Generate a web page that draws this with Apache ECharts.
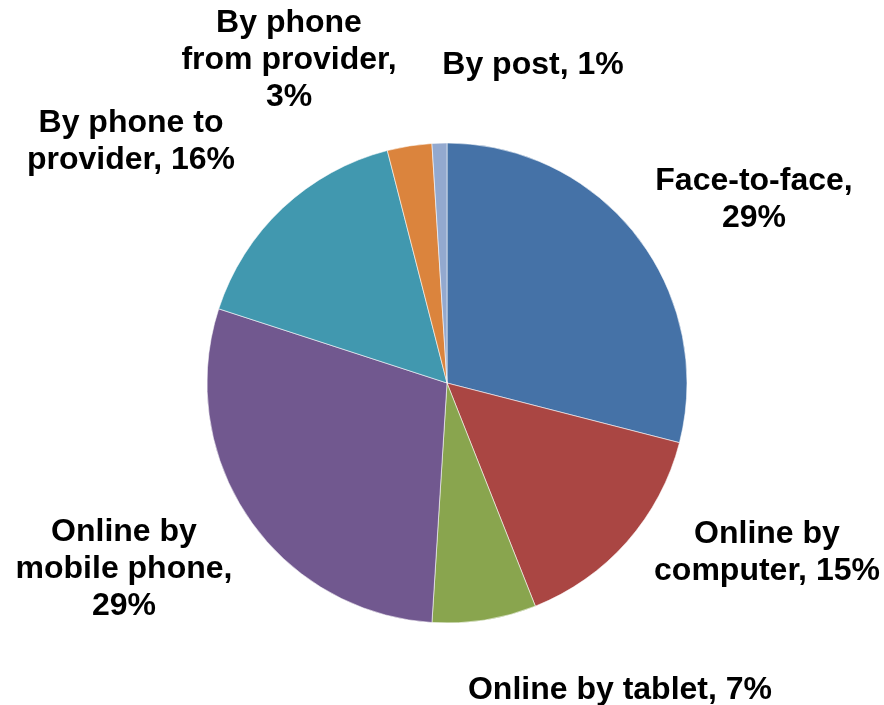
<!DOCTYPE html>
<html>
<head>
<meta charset="utf-8">
<script src="https://cdn.jsdelivr.net/npm/echarts@6/dist/echarts.min.js"></script>
<style>
  html, body { margin: 0; padding: 0; background: #ffffff; }
  #chart { width: 884px; height: 705px; }
</style>
</head>
<body>
<div id="chart"></div>
<script>
// Channels used, share of contacts (%)
const categories = [
  'Face-to-face',
  'Online by computer',
  'Online by tablet',
  'Online by mobile phone',
  'By phone to provider',
  'By phone from provider',
  'By post'
];
const shares = [29, 15, 7, 29, 16, 3, 1];

// How each label wraps: line break after these words, and whether "NN%" goes on its own line
const labelNames = [
  'Face-to-face',
  'Online by\ncomputer',
  'Online by tablet',
  'Online by\nmobile phone',
  'By phone to\nprovider',
  'By phone\nfrom provider',
  'By post'
];
const pctOnOwnLine = [true, false, false, true, false, true, false];

const colors = ['#4572A7', '#AA4643', '#89A54E', '#71588F', '#4198AF', '#DB843D', '#93A9CF'];

// Label block centres (px)
const labelSpots = [
  [754, 200], [767, 553], [620, 690], [124, 569], [131, 142], [289, 60], [533, 65]
];

const chart = echarts.init(document.getElementById('chart'), null, { renderer: 'canvas' });

chart.setOption({
  animation: false,
  backgroundColor: '#ffffff',
  series: [{
    type: 'pie',
    center: [447, 383],
    radius: [0, 240],
    startAngle: 90,
    clockwise: true,
    avoidLabelOverlap: false,
    data: categories.map((name, i) => ({
      name: name,
      value: shares[i],
      itemStyle: { color: colors[i] }
    })),
    itemStyle: { borderColor: 'rgba(255,255,255,0.7)', borderWidth: 0.8 },
    label: {
      show: true,
      position: 'outside',
      color: '#000000',
      fontFamily: '"Liberation Sans", Arial, sans-serif',
      fontWeight: 'bold',
      fontSize: 32,
      lineHeight: 37,
      align: 'center',
      formatter: p => labelNames[p.dataIndex] + ',' + (pctOnOwnLine[p.dataIndex] ? '\n' : ' ') + p.value + '%'
    },
    labelLine: { show: false },
    labelLayout: p => ({
      x: labelSpots[p.dataIndex][0],
      y: labelSpots[p.dataIndex][1],
      align: 'center',
      verticalAlign: 'middle'
    }),
    emphasis: { disabled: true }
  }]
});
</script>
</body>
</html>
